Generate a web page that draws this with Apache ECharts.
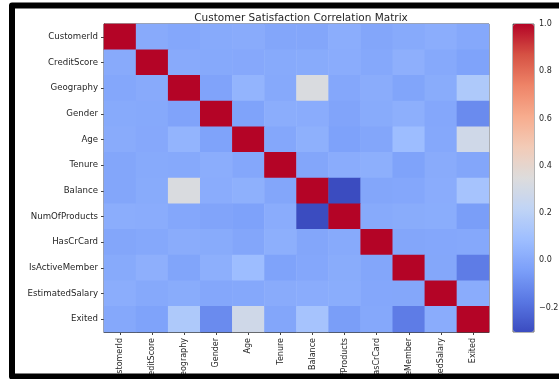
<!DOCTYPE html>
<html>
<head>
<meta charset="utf-8">
<script src="https://cdn.jsdelivr.net/npm/echarts@6/dist/echarts.min.js"></script>
<style>
  html, body { margin: 0; padding: 0; background: #fff; }
  #chart { width: 559px; height: 379px; }
</style>
</head>
<body>
<div id="chart"></div>
<script>
// Feature names (rows top to bottom, columns left to right)
const features = [
  'CustomerId', 'CreditScore', 'Geography', 'Gender', 'Age', 'Tenure',
  'Balance', 'NumOfProducts', 'HasCrCard', 'IsActiveMember', 'EstimatedSalary', 'Exited'
];

// Pearson correlation rows, one per feature
const rowCustomerId      = [ 1.000,  0.005, -0.010,  0.002,  0.009, -0.015, -0.012,  0.017, -0.014,  0.002,  0.015, -0.006];
const rowCreditScore     = [ 0.005,  1.000,  0.005, -0.003, -0.004,  0.001,  0.006,  0.012, -0.005,  0.026, -0.001, -0.027];
const rowGeography       = [-0.010,  0.005,  1.000, -0.025,  0.047, -0.001,  0.330, -0.010,  0.011, -0.020,  0.010,  0.150];
const rowGender          = [ 0.002, -0.003, -0.025,  1.000, -0.028,  0.015,  0.012, -0.022,  0.006,  0.023, -0.008, -0.107];
const rowAge             = [ 0.009, -0.004,  0.047, -0.028,  1.000, -0.010,  0.028, -0.031, -0.012,  0.085, -0.007,  0.285];
const rowTenure          = [-0.015,  0.001, -0.001,  0.015, -0.010,  1.000, -0.012,  0.013,  0.023, -0.028,  0.008, -0.014];
const rowBalance         = [-0.012,  0.006,  0.330,  0.012,  0.028, -0.012,  1.000, -0.304, -0.015, -0.010,  0.013,  0.119];
const rowNumOfProducts   = [ 0.017,  0.012, -0.010, -0.022, -0.031,  0.013, -0.304,  1.000,  0.003,  0.010,  0.014, -0.048];
const rowHasCrCard       = [-0.014, -0.005,  0.011,  0.006, -0.012,  0.023, -0.015,  0.003,  1.000, -0.012, -0.010, -0.007];
const rowIsActiveMember  = [ 0.002,  0.026, -0.020,  0.023,  0.085, -0.028, -0.010,  0.010, -0.012,  1.000, -0.011, -0.156];
const rowEstimatedSalary = [ 0.015, -0.001,  0.010, -0.008, -0.007,  0.008,  0.013,  0.014, -0.010, -0.011,  1.000,  0.012];
const rowExited          = [-0.006, -0.027,  0.150, -0.107,  0.285, -0.014,  0.119, -0.048, -0.007, -0.156,  0.012,  1.000];

const corrRows = [
  rowCustomerId, rowCreditScore, rowGeography, rowGender, rowAge, rowTenure,
  rowBalance, rowNumOfProducts, rowHasCrCard, rowIsActiveMember, rowEstimatedSalary, rowExited
];

// Colour bar ticks
const colorbarTicks = [-0.2, 0.0, 0.2, 0.4, 0.6, 0.8, 1.0];

// coolwarm colour ramp
const coolwarm = [
  '#3b4cc0', '#5977e3', '#7b9ff9', '#9ebeff', '#c0d4f5', '#dddcdc',
  '#f2cbb7', '#f7ac8e', '#ee8468', '#d65244', '#b40426'
];

const cells = [];
corrRows.forEach((row, r) => row.forEach((v, c) => cells.push([c, r, v])));
const allValues = corrRows.flat();
const vMin = Math.min(...allValues);
const vMax = Math.max(...allValues);

const chart = echarts.init(document.getElementById('chart'), null, { renderer: 'canvas' });
const fontFamily = 'DejaVu Sans';
const textColor = '#262626';

chart.setOption({
  backgroundColor: '#ffffff',
  animation: false,
  textStyle: { fontFamily },
  title: {
    text: 'Customer Satisfaction Correlation Matrix',
    left: 296,
    top: 8,
    textAlign: 'center',
    textStyle: { fontSize: 10.5, fontWeight: 'normal', color: textColor, fontFamily }
  },
  grid: [
    { left: 104, top: 24, width: 385, height: 308, outerBoundsMode: 'none', containLabel: false,
      show: true, borderColor: '#444', borderWidth: 1, backgroundColor: 'transparent' },
    { left: 513, top: 24, width: 21, height: 308, outerBoundsMode: 'none', containLabel: false,
      show: true, borderColor: '#444', borderWidth: 0.8, backgroundColor: 'transparent' }
  ],
  xAxis: [
    {
      type: 'category', gridIndex: 0, data: features,
      axisLine: { show: true, lineStyle: { color: '#444' } },
      axisTick: { show: true, alignWithLabel: true, length: 3, lineStyle: { color: '#444' } },
      axisLabel: { rotate: 90, interval: 0, margin: 6, fontSize: 8, color: textColor, fontFamily },
      splitLine: { show: false }
    },
    { type: 'value', gridIndex: 1, show: false, min: 0, max: 1 }
  ],
  yAxis: [
    {
      type: 'category', gridIndex: 0, data: features, inverse: true,
      axisLine: { show: true, lineStyle: { color: '#444' } },
      axisTick: { show: true, alignWithLabel: true, length: 3, lineStyle: { color: '#444' } },
      axisLabel: { interval: 0, margin: 6, fontSize: 8.6, color: textColor, fontFamily },
      splitLine: { show: false }
    },
    {
      type: 'value', gridIndex: 1, position: 'right', min: vMin, max: vMax,
      axisLine: { show: false },
      axisTick: { show: true, length: 3, customValues: colorbarTicks, lineStyle: { color: '#444' } },
      axisLabel: {
        customValues: colorbarTicks, margin: 5, fontSize: 8, color: textColor, fontFamily,
        formatter: v => (v < 0 ? '\u2212' : '') + Math.abs(v).toFixed(1)
      },
      splitLine: { show: false }
    }
  ],
  visualMap: {
    type: 'continuous',
    seriesIndex: 0,
    dimension: 2,
    min: vMin,
    max: vMax,
    orient: 'vertical',
    left: 508,
    top: 19,
    padding: 5,
    itemWidth: 21,
    itemHeight: 308,
    calculable: false,
    hoverLink: false,
    showLabel: false,
    text: null,
    inRange: { color: coolwarm }
  },
  series: [{
    type: 'heatmap',
    xAxisIndex: 0,
    yAxisIndex: 0,
    data: cells,
    itemStyle: { borderWidth: 0 },
    emphasis: { disabled: true }
  }],
  graphic: [{
    // page frame: left, top and bottom edges, open to the right
    type: 'polyline',
    z: 100,
    silent: true,
    shape: { points: [[700, 5.5], [12, 5.5], [12, 376.5], [700, 376.5]] },
    style: { fill: null, stroke: '#000', lineWidth: 6, lineJoin: 'round' }
  }]
});
</script>
</body>
</html>
